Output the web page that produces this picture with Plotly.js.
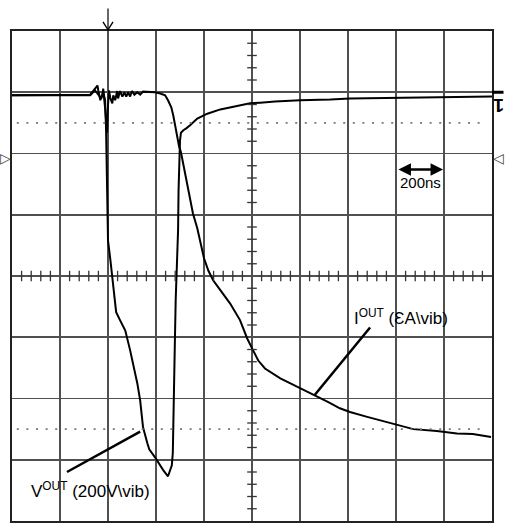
<!DOCTYPE html>
<html>
<head>
<meta charset="utf-8">
<script src="https://cdn.plot.ly/plotly-3.0.1.min.js"></script>
<style>html,body{margin:0;padding:0;background:#fff;}#chart{width:513px;height:530px;}</style>
</head>
<body>
<div id="chart"></div>
<script>
// Time axis in divisions (200 ns/div), vertical axis in divisions
var iOutTime = [0,0.38,0.80,1.21,1.63,1.73,1.78,1.80,1.84,1.88,1.90,1.94,1.96,1.98,2.00,2.02,2.05,2.09,2.11,2.15,2.19,2.21,2.25,2.30,2.34,2.38,2.42,2.46,2.50,2.55,2.61,2.67,2.73,2.88,2.98,3.09,3.19,3.25,3.32,3.36,3.40,3.44,3.48,3.52,3.57,3.63,3.71,3.77,3.86,3.92,4.00,4.09,4.19,4.34,4.545,4.75,4.90,5.02,5.13,5.27,5.42,5.59,5.79,6.00,6.31,6.59,6.83,7.04,7.40,7.73,8.02,8.36,8.85,9.27,9.60,9.98];
var iOutDiv = [2.95,2.95,2.96,2.95,2.96,3.06,3.11,3.02,2.87,2.95,3.06,2.74,2.51,2.34,2.78,3.03,2.90,2.82,2.95,2.87,3.02,2.90,3.02,2.93,3.00,2.93,3.00,2.93,3.02,2.96,3.00,2.96,3.01,3.01,3.00,2.98,2.95,2.87,2.75,2.62,2.43,2.26,2.12,2.02,1.81,1.56,1.28,1.02,0.78,0.58,0.29,0.09,-0.07,-0.23,-0.45,-0.72,-1.02,-1.21,-1.38,-1.51,-1.59,-1.67,-1.75,-1.83,-1.94,-2.06,-2.16,-2.22,-2.30,-2.37,-2.42,-2.50,-2.53,-2.57,-2.58,-2.63];

var vOutTime = [0,1.63,1.73,1.80,1.86,1.90,1.94,1.96,1.97,1.98,2.00,2.05,2.09,2.13,2.17,2.25,2.36,2.46,2.57,2.61,2.67,2.73,2.82,2.86,2.98,3.15,3.25,3.33,3.35,3.36,3.39,3.41,3.44,3.46,3.47,3.48,3.50,3.52,3.57,3.63,3.71,3.86,4.07,4.34,4.65,4.96,5.17,5.48,6.00,6.63,7.04,8.50,10.0];
var vOutDiv = [2.95,2.95,3.03,2.95,2.90,3.00,2.87,2.38,1.89,1.23,0.58,0.26,-0.04,-0.40,-0.59,-0.72,-0.89,-1.21,-1.59,-1.75,-2.03,-2.47,-2.73,-2.83,-2.96,-3.17,-3.27,-3.09,-2.89,-2.30,-1.21,-0.40,0.21,0.75,1.40,1.89,2.21,2.34,2.38,2.41,2.46,2.57,2.65,2.72,2.77,2.82,2.83,2.85,2.87,2.88,2.90,2.92,2.93];

var vLabel = 'V<sup>OUT</sup> (200V\\vib)';
var iLabel = 'I<sup>OUT</sup> (ƐA\\vib)';
var timeLabel = '200ns';

var traces = [
  {x: iOutTime, y: iOutDiv, mode: 'lines', line: {color: '#000', width: 2}, hoverinfo: 'skip'},
  {x: vOutTime, y: vOutDiv, mode: 'lines', line: {color: '#000', width: 2}, hoverinfo: 'skip'}
];

var shapes = [];
// center-axis minor ticks
for (var k = 1; k < 50; k++) {
  if (k % 5 === 0) continue;
  shapes.push({type: 'line', xref: 'x', yref: 'y', x0: k * 0.2, x1: k * 0.2, y0: -0.085, y1: 0.085, line: {color: '#333', width: 1.3}});
}
for (var j = -19; j < 20; j++) {
  if (j % 5 === 0) continue;
  shapes.push({type: 'line', xref: 'x', yref: 'y', x0: 4.9, x1: 5.1, y0: j * 0.2, y1: j * 0.2, line: {color: '#333', width: 1.3}});
}
// dotted reference lines
[2.5, -2.5].forEach(function (yy) {
  shapes.push({type: 'line', xref: 'x', yref: 'y', x0: 0.1, x1: 9.9, y0: yy, y1: yy, line: {color: '#777', width: 1.6, dash: '2px,7.6px'}});
});
// leader lines
shapes.push({type: 'line', xref: 'x', yref: 'y', x0: 1.145, y0: -3.20, x1: 2.67, y1: -2.54, line: {color: '#000', width: 2.5}});
shapes.push({type: 'line', xref: 'x', yref: 'y', x0: 7.46, y0: -0.84, x1: 6.31, y1: -1.94, line: {color: '#000', width: 2.5}});
// trigger arrow at top
shapes.push({type: 'line', xref: 'paper', yref: 'paper', x0: 0.2, x1: 0.2, y0: 1.0, y1: 1.046, line: {color: '#000', width: 1.2}});
shapes.push({type: 'path', xref: 'paper', yref: 'paper', path: 'M 0.1895 1.0184 L 0.2 1.0025 L 0.2105 1.0184', line: {color: '#000', width: 1.4}});
// channel ground marker
shapes.push({type: 'line', xref: 'paper', yref: 'paper', x0: 1.0, x1: 1.024, y0: 0.875, y1: 0.875, line: {color: '#000', width: 3}});

var annotations = [
  {xref: 'x', yref: 'y', x: 0.36, y: -3.50, xanchor: 'left', yanchor: 'middle', text: vLabel, showarrow: false, font: {family: 'Liberation Sans, Arial, sans-serif', size: 17, color: '#000'}},
  {xref: 'x', yref: 'y', x: 7.08, y: -0.67, xanchor: 'left', yanchor: 'middle', text: iLabel, showarrow: false, font: {family: 'Liberation Sans, Arial, sans-serif', size: 17, color: '#000'}},
  {xref: 'x', yref: 'y', x: 8.98, y: 1.74, axref: 'x', ayref: 'y', ax: 8.02, ay: 1.74, text: '', showarrow: true, arrowside: 'end+start', arrowhead: 2, arrowsize: 1, arrowwidth: 2.5, arrowcolor: '#000'},
  {xref: 'x', yref: 'y', x: 8.5, y: 1.53, text: timeLabel, showarrow: false, font: {family: 'Liberation Sans, Arial, sans-serif', size: 15, color: '#000'}},
  {xref: 'paper', yref: 'paper', x: 0.002, y: 0.74, xanchor: 'right', yanchor: 'middle', text: '▷', showarrow: false, font: {family: 'DejaVu Sans', size: 14, color: '#444'}},
  {xref: 'paper', yref: 'paper', x: 0.998, y: 0.74, xanchor: 'left', yanchor: 'middle', text: '◁', showarrow: false, font: {family: 'DejaVu Sans', size: 14, color: '#444'}},
  {xref: 'paper', yref: 'paper', x: 1.0146, y: 0.848, xanchor: 'center', yanchor: 'middle', text: '<b>1</b>', textangle: 180, showarrow: false, font: {family: 'Liberation Sans, Arial, sans-serif', size: 19, color: '#000'}}
];

var layout = {
  width: 513, height: 530,
  margin: {l: 12, r: 21, t: 31, b: 9, pad: 0},
  paper_bgcolor: '#fff', plot_bgcolor: '#fff',
  showlegend: false,
  xaxis: {range: [0, 10], dtick: 1, tick0: 0, showgrid: true, gridcolor: '#505050', gridwidth: 1.6, zeroline: false, showticklabels: false, ticks: '', showline: true, linecolor: '#222', linewidth: 2, mirror: true, fixedrange: true},
  yaxis: {range: [-4, 4], dtick: 1, tick0: 0, showgrid: true, gridcolor: '#505050', gridwidth: 1.6, zeroline: false, showticklabels: false, ticks: '', showline: true, linecolor: '#222', linewidth: 2, mirror: true, fixedrange: true},
  shapes: shapes,
  annotations: annotations
};

Plotly.newPlot('chart', traces, layout, {staticPlot: true, displayModeBar: false});
</script>
</body>
</html>
